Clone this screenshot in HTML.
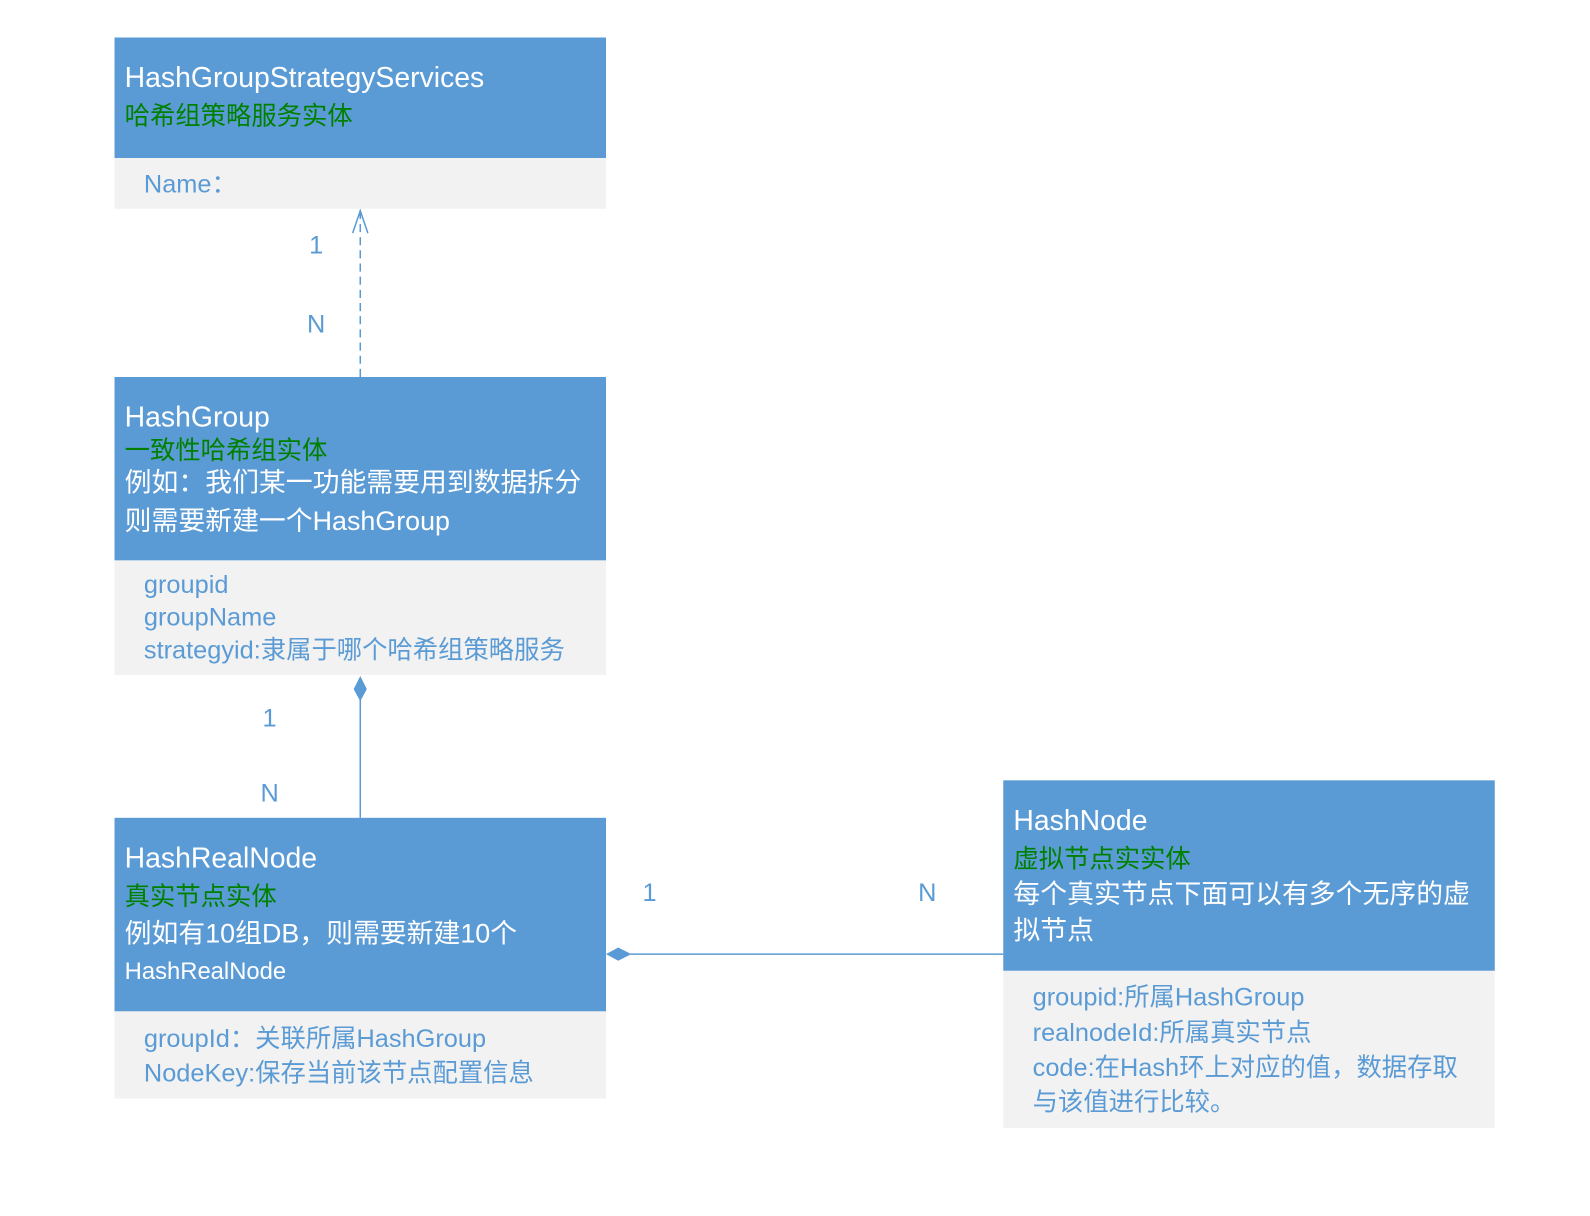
<!DOCTYPE html>
<html><head><meta charset="utf-8"><style>
body{margin:0;width:1590px;height:1200px;background:#fff;position:relative;overflow:hidden;font-family:"Liberation Sans","Noto Sans CJK SC",sans-serif}
#r{position:absolute;left:0;top:0;width:1590px;height:1200px;transform:scale(1.0134);transform-origin:0 0}
.h{position:absolute;background:#5b9bd5}
.b{position:absolute;background:#f2f2f2}
.t{position:absolute;white-space:nowrap;line-height:1}
.w{color:#fff}.g{color:#008000}.a{color:#5b9bd5}
.T{font-size:28px}.G{font-size:25px}.C{font-size:26.5px}.A{font-size:25px}
</style></head><body><div id="r">
<div class="h" style="left:113px;top:37px;width:485px;height:119px"></div>
<div class="b" style="left:113px;top:156px;width:485px;height:50px"></div>
<div class="t w T" style="left:123px;top:63px">HashGroupStrategyServices</div>
<div class="t g G" style="left:123px;top:103px">哈希组策略服务实体</div>
<div class="t a A" style="left:142px;top:170px">Name：</div>

<div class="h" style="left:113px;top:372px;width:485px;height:181px"></div>
<div class="b" style="left:113px;top:553px;width:485px;height:113px"></div>
<div class="t w T" style="left:123px;top:398px">HashGroup</div>
<div class="t g G" style="left:123px;top:433px">一致性哈希组实体</div>
<div class="t w C" style="left:123px;top:463px">例如：我们某一功能需要用到数据拆分</div>
<div class="t w C" style="left:123px;top:501px">则需要新建一个HashGroup</div>
<div class="t a A" style="left:142px;top:565px">groupid</div>
<div class="t a A" style="left:142px;top:597px">groupName</div>
<div class="t a A" style="left:142px;top:630px">strategyid:隶属于哪个哈希组策略服务</div>

<div class="h" style="left:113px;top:807px;width:485px;height:191px"></div>
<div class="b" style="left:113px;top:998px;width:485px;height:86px"></div>
<div class="t w T" style="left:123px;top:833px">HashRealNode</div>
<div class="t g G" style="left:123px;top:873px">真实节点实体</div>
<div class="t w C" style="left:123px;top:908px">例如有10组DB，则需要新建10个</div>
<div class="t w" style="left:123px;top:947px;font-size:23.5px">HashRealNode</div>
<div class="t a A" style="left:142px;top:1013px">groupId：关联所属HashGroup</div>
<div class="t a A" style="left:142px;top:1047px">NodeKey:保存当前该节点配置信息</div>

<div class="h" style="left:990px;top:770px;width:485px;height:188px"></div>
<div class="b" style="left:990px;top:958px;width:485px;height:155px"></div>
<div class="t w T" style="left:1000px;top:796px">HashNode</div>
<div class="t g G" style="left:1000px;top:836px">虚拟节点实实体</div>
<div class="t w C" style="left:1000px;top:869px">每个真实节点下面可以有多个无序的虚</div>
<div class="t w C" style="left:1000px;top:905px">拟节点</div>
<div class="t a A" style="left:1019px;top:972px">groupid:所属HashGroup</div>
<div class="t a A" style="left:1019px;top:1007px">realnodeId:所属真实节点</div>
<div class="t a A" style="left:1019px;top:1042px">code:在Hash环上对应的值，数据存取</div>
<div class="t a A" style="left:1019px;top:1076px">与该值进行比较。</div>

<div class="t a" style="left:305px;top:230px;font-size:25px">1</div>
<div class="t a" style="left:303px;top:308px;font-size:25px">N</div>
<div class="t a" style="left:259px;top:697px;font-size:25px">1</div>
<div class="t a" style="left:257px;top:771px;font-size:25px">N</div>
<div class="t a" style="left:634px;top:869px;font-size:25px">1</div>
<div class="t a" style="left:906px;top:869px;font-size:25px">N</div>

<svg width="1590" height="1200" style="position:absolute;left:0;top:0">
<line x1="355.5" y1="372" x2="355.5" y2="210" stroke="#5b9bd5" stroke-width="1.5" stroke-dasharray="8,5"/>
<polyline points="348,230 355.5,208 363,230" fill="none" stroke="#5b9bd5" stroke-width="1.5"/>
<line x1="355.5" y1="690" x2="355.5" y2="807" stroke="#5b9bd5" stroke-width="1.5"/>
<polygon points="355.5,667 362,680 355.5,692 349,680" fill="#5b9bd5"/>
<line x1="622" y1="941.5" x2="990" y2="941.5" stroke="#5b9bd5" stroke-width="1.5"/>
<polygon points="598,941.5 610,935 623,941.5 610,948" fill="#5b9bd5"/>
</svg>
</div></body></html>
